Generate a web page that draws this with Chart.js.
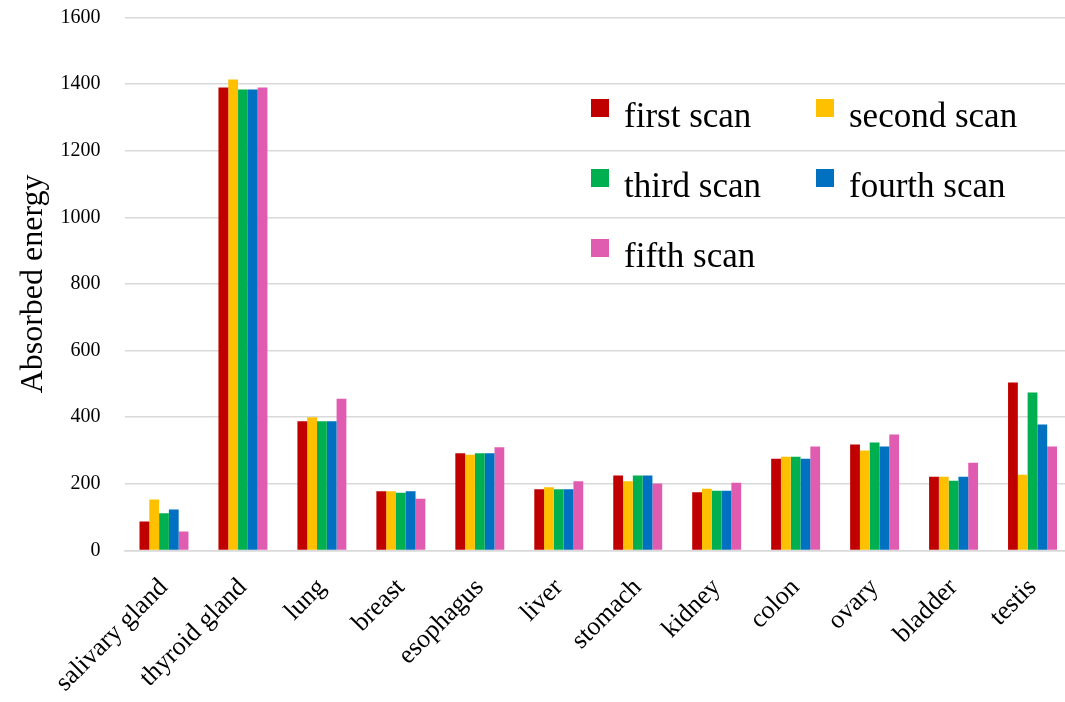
<!DOCTYPE html>
<html>
<head>
<meta charset="utf-8">
<script src="https://cdn.jsdelivr.net/npm/chart.js@4"></script>
<style>
    html, body { margin: 0; padding: 0; background: #fff; overflow: hidden; }
    #wrap { width: 1072px; height: 702px; }
</style>
</head>
<body>
<div id="wrap"><canvas id="energyCanvas" width="1072" height="702"></canvas></div>
<script>
// organs on the x axis
const organs = ['salivary gland', 'thyroid gland', 'lung', 'breast', 'esophagus', 'liver',
    'stomach', 'kidney', 'colon', 'ovary', 'bladder', 'testis'];

// absorbed energy per scan
const firstScan  = [87, 1389, 388, 178, 292, 184, 225, 175, 275, 318, 221, 504];
const secondScan = [153, 1413, 400, 178, 287, 190, 208, 185, 281, 300, 221, 227];
const thirdScan  = [112, 1383, 388, 173, 292, 184, 225, 179, 281, 324, 209, 474];
const fourthScan = [123, 1383, 388, 178, 292, 184, 225, 179, 275, 312, 221, 378];
const fifthScan  = [57, 1389, 455, 155, 310, 208, 201, 203, 312, 348, 263, 312];

const scanNames = ['first scan', 'second scan', 'third scan', 'fourth scan', 'fifth scan'];
const scanColors = ['#C00000', '#FFC000', '#00B050', '#0070C0', '#E05CB0'];

const serif = "'Liberation Serif', 'Times New Roman', serif";

// legend drawn inside the plot, two columns
const innerLegend = {
    id: 'innerLegend',
    afterDraw(chart) {
        const ctx = chart.ctx;
        const cols = [591, 816];
        const rows = [99, 169, 239];
        ctx.save();
        ctx.font = '35px ' + serif;
        ctx.textBaseline = 'alphabetic';
        ctx.textAlign = 'left';
        chart.data.datasets.forEach((ds, i) => {
            const x = cols[i % 2];
            const y = rows[Math.floor(i / 2)];
            ctx.fillStyle = ds.backgroundColor;
            ctx.fillRect(x, y, 18, 18);
            ctx.fillStyle = '#000';
            ctx.fillText(ds.label, x + 33, y + 28);
        });
        ctx.restore();
    }
};

const datasets = [firstScan, secondScan, thirdScan, fourthScan, fifthScan].map((values, i) => ({
    label: scanNames[i],
    data: values,
    backgroundColor: scanColors[i],
    borderWidth: 0,
    categoryPercentage: 0.62,
    barPercentage: 1.0
}));

new Chart(document.getElementById('energyCanvas'), {
    type: 'bar',
    data: { labels: organs, datasets: datasets },
    options: {
        responsive: false,
        animation: false,
        layout: { padding: 0 },
        plugins: {
            legend: { display: false },
            tooltip: { enabled: false }
        },
        scales: {
            x: {
                grid: { display: false },
                border: { color: '#D9D9D9', width: 1.5 },
                ticks: {
                    color: '#000',
                    font: { family: serif, size: 26 },
                    minRotation: 45,
                    maxRotation: 45,
                    padding: 14
                },
                afterFit(scale) { scale.height = 151.5; }
            },
            y: {
                min: 0,
                max: 1600,
                grid: { color: '#D9D9D9', lineWidth: 1.5, drawTicks: false },
                border: { display: false },
                ticks: {
                    stepSize: 200,
                    color: '#000',
                    font: { family: serif, size: 20 },
                    padding: 24,
                    callback: (v) => String(v)
                },
                title: {
                    display: true,
                    text: 'Absorbed energy',
                    color: '#000',
                    font: { family: serif, size: 32 },
                    padding: { top: 14, bottom: 0 }
                },
                afterFit(scale) {
                    scale.width = 124.5;
                    scale.paddingTop = 17.3;
                    scale.paddingBottom = 0;
                }
            }
        }
    },
    plugins: [innerLegend]
});
</script>
</body>
</html>
